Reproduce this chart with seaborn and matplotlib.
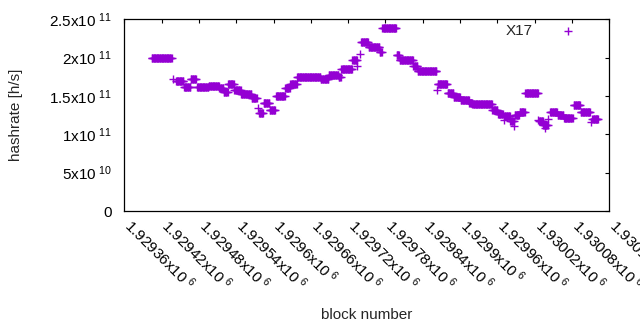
import numpy as np
import pandas as pd
import matplotlib
matplotlib.use('Agg')
import matplotlib.pyplot as plt
import matplotlib.transforms as mtransforms
import seaborn as sns

# runs of blocks with the same hashrate (first block, last block, hashrate)
run_start = [1929404, 1929439, 1929443, 1929456, 1929467, 1929477, 1929496, 1929513,
             1929520, 1929527, 1929537, 1929548, 1929565, 1929575, 1929577, 1929584,
             1929594, 1929604, 1929619, 1929627, 1929638, 1929652, 1929676, 1929689,
             1929705, 1929709, 1929727, 1929735, 1929739, 1929741, 1929753, 1929771,
             1929775, 1929798, 1929803, 1929825, 1929832, 1929863, 1929864, 1929880,
             1929890, 1929901, 1929915, 1929920, 1929952, 1929961, 1929970, 1929971,
             1929981, 1929987, 1929988, 1929996, 1930005, 1930026, 1930027, 1930034,
             1930037, 1930042, 1930045, 1930057, 1930067, 1930083, 1930094, 1930111,
             1930113]
run_end = [1929436, 1929439, 1929455, 1929466, 1929475, 1929495, 1929512, 1929519,
           1929526, 1929536, 1929547, 1929564, 1929573, 1929575, 1929583, 1929593,
           1929602, 1929618, 1929626, 1929637, 1929651, 1929675, 1929688, 1929704,
           1929708, 1929726, 1929734, 1929735, 1929739, 1929752, 1929770, 1929774,
           1929797, 1929802, 1929824, 1929831, 1929862, 1929863, 1929879, 1929889,
           1929900, 1929914, 1929919, 1929951, 1929960, 1929969, 1929970, 1929980,
           1929986, 1929987, 1929995, 1930004, 1930025, 1930026, 1930033, 1930041,
           1930037, 1930042, 1930056, 1930066, 1930081, 1930093, 1930109, 1930111,
           1930122]
run_rate = [1.991e11, 1.728e11, 1.691e11, 1.613e11, 1.728e11, 1.611e11, 1.628e11, 1.600e11,
            1.558e11, 1.652e11, 1.574e11, 1.532e11, 1.470e11, 1.343e11, 1.278e11, 1.412e11,
            1.313e11, 1.500e11, 1.598e11, 1.650e11, 1.744e11, 1.751e11, 1.728e11, 1.780e11,
            1.754e11, 1.849e11, 1.969e11, 1.891e11, 2.047e11, 2.210e11, 2.143e11, 2.080e11,
            2.383e11, 2.041e11, 1.965e11, 1.887e11, 1.832e11, 1.578e11, 1.650e11, 1.543e11,
            1.484e11, 1.454e11, 1.412e11, 1.390e11, 1.311e11, 1.271e11, 1.187e11, 1.245e11,
            1.180e11, 1.108e11, 1.252e11, 1.286e11, 1.534e11, 1.187e11, 1.180e11, 1.122e11,
            1.076e11, 1.200e11, 1.285e11, 1.247e11, 1.219e11, 1.378e11, 1.285e11, 1.161e11,
            1.206e11]

x_ticks = [1929360, 1929420, 1929480, 1929540, 1929600, 1929660, 1929720,
           1929780, 1929840, 1929900, 1929960, 1930020, 1930080, 1930140]
x_labels = ['1.92936x10$^{\\ 6}$', '1.92942x10$^{\\ 6}$', '1.92948x10$^{\\ 6}$',
            '1.92954x10$^{\\ 6}$', '1.9296x10$^{\\ 6}$', '1.92966x10$^{\\ 6}$',
            '1.92972x10$^{\\ 6}$', '1.92978x10$^{\\ 6}$', '1.92984x10$^{\\ 6}$',
            '1.9299x10$^{\\ 6}$', '1.92996x10$^{\\ 6}$', '1.93002x10$^{\\ 6}$',
            '1.93008x10$^{\\ 6}$', '1.93014x10$^{\\ 6}$']
y_ticks = [0, 5e10, 1e11, 1.5e11, 2e11, 2.5e11]
y_labels = ['0', '5x10$^{\\ 10}$', '1x10$^{\\ 11}$', '1.5x10$^{\\ 11}$',
            '2x10$^{\\ 11}$', '2.5x10$^{\\ 11}$']

# one point per block
blocks = np.concatenate([np.arange(s, e + 1) for s, e in zip(run_start, run_end)])
rates = np.concatenate([[r] * (e - s + 1) for s, e, r in zip(run_start, run_end, run_rate)])
df = pd.DataFrame({'block': blocks, 'hashrate': rates})

sns.set_theme(style='white')
plt.rcParams['font.family'] = ['Liberation Sans', 'DejaVu Sans']
plt.rcParams['mathtext.default'] = 'regular'
fs = 11

fig = plt.figure(figsize=(6.4, 3.3), dpi=100)
ax = fig.add_axes([0.1942, 0.3606, 0.952 - 0.1942, 0.9415 - 0.3606])

sns.scatterplot(data=df, x='block', y='hashrate', marker='+', color='#9400d3',
                s=30, linewidth=1.0, label='X17', ax=ax)

ax.set_xlim(1929360, 1930140)
ax.set_ylim(0, 2.5e11)
ax.set_xticks(x_ticks)
ax.set_xticklabels(x_labels, rotation=-45, ha='left', va='top', rotation_mode='anchor')
ax.set_yticks(y_ticks)
ax.set_yticklabels(y_labels)
ax.tick_params(direction='in', top=True, right=True, length=3, width=0.8,
               labelsize=fs, colors='black', pad=7)
ax.tick_params(axis='y', pad=9)

# nudge rotated labels so they start at the tick like gnuplot
shift = mtransforms.ScaledTranslation(0.10, 0.05, fig.dpi_scale_trans)
for lab in ax.get_xticklabels():
    lab.set_transform(lab.get_transform() + shift)

for sp in ax.spines.values():
    sp.set_visible(True)
    sp.set_color('black')
    sp.set_linewidth(0.9)

ax.set_xlabel('block number', fontsize=fs)
ax.set_ylabel('hashrate [h/s]', fontsize=fs)
ax.xaxis.set_label_coords(0.5, -0.505)
ax.yaxis.set_label_coords(-0.208, 0.5)

ax.legend(loc='upper right', bbox_to_anchor=(0.9458, 0.973), frameon=False,
          markerfirst=False, borderaxespad=0, borderpad=0, handletextpad=1.3,
          fontsize=fs)

fig.savefig('out.png', dpi=100)
